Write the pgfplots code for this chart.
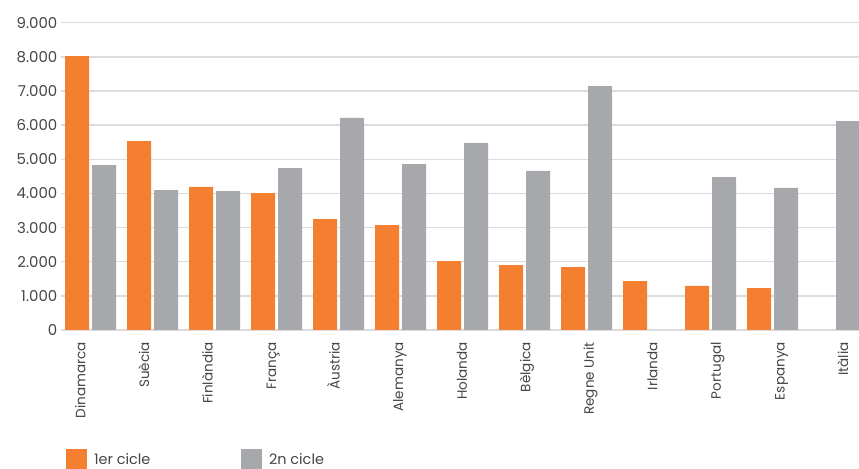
\documentclass[border=0pt]{standalone}
\usepackage{pgfplots}
\pgfplotsset{compat=1.18}
\usepackage{fontspec}
\setmainfont{Poppins}
\definecolor{orangebar}{HTML}{F47F31}
\definecolor{greybar}{HTML}{A7A8AB}
\definecolor{gridc}{HTML}{DCDCDC}
\definecolor{txt}{HTML}{454545}
\begin{document}
\begin{tikzpicture}
\useasboundingbox (0,0) rectangle (859bp,469bp);
\begin{axis}[
  at={(61bp,139bp)}, anchor=south west,
  scale only axis, width=798bp, height=307.3bp,
  xmin=-0.476, xmax=12.395, ymin=0, ymax=9000,
  axis line style={draw=none},
  ytick={0,1000,...,9000},
  yticklabels={0,1.000,2.000,3.000,4.000,5.000,6.000,7.000,8.000,9.000},
  ymajorgrids, major grid style={draw=gridc, line width=1.5bp},
  major tick length=0pt,
  yticklabel style={anchor=east, inner sep=0pt, xshift=-3.5bp, font=\fontsize{15}{18}\selectfont, text=txt},
  xtick={-0.081,0.944,1.969,2.994,4.019,5.044,6.069,7.094,8.119,9.144,10.169,11.194,12.219},
  xticklabels={Dinamarca,Suècia,Finlàndia,França,Àustria,Alemanya,Holanda,Bèlgica,Regne Unit,Irlanda,Portugal,Espanya,Itàlia},
  xticklabel style={rotate=90, anchor=base east, inner sep=0pt, font=\fontsize{13.6}{16}\selectfont, text=txt},
  xticklabel shift=12bp,
  ybar, bar width=24bp,
  legend image code/.code={\fill[#1] (0bp,-10.5bp) rectangle (21bp,10.5bp);},
  legend columns=2,
  legend style={at={(0.00627,-0.423)}, anchor=west, draw=none, fill=none,
    inner sep=0pt, outer sep=0pt, font=\fontsize{14.5}{17}\selectfont, text=txt,
    column sep=0pt, /tikz/every odd column/.append style={column sep=7bp},
    nodes={inner sep=0pt}, cells={anchor=west}},
]
\addplot[fill=orangebar, draw=none, bar shift=-13.5bp] coordinates {
(0,8020) (1,5530) (2,4190) (3,4010) (4,3250) (5,3070) (6,2020) (7,1900) (8,1840) (9,1430) (10,1290) (11,1230)};
\addlegendentry{\makebox[147bp][l]{1er cicle}}
\addplot[fill=greybar, draw=none, bar shift=13.5bp] coordinates {
(0,4830) (1,4100) (2,4070) (3,4740) (4,6210) (5,4860) (6,5480) (7,4660) (8,7140) (10,4480) (11,4160) (12,6120)};
\addlegendentry{2n cicle}
\end{axis}
\end{tikzpicture}
\end{document}
